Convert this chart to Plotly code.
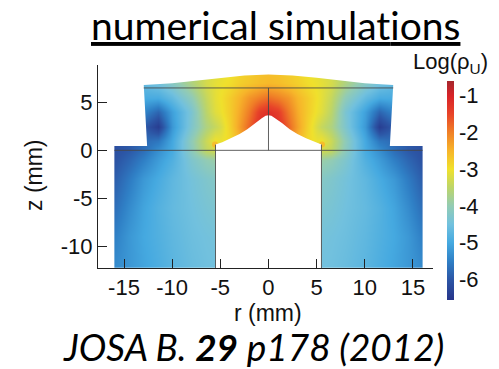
import plotly.graph_objects as go

# ---- field samples (half domain, r >= 0; field is mirror symmetric) ----
r_half = [0, 1, 2, 3, 4, 5, 5.5, 6.5, 8, 10, 11.5, 13, 14.5, 16]
z_rows = [-12.3, -9, -6, -3, -1, 0, 1, 2.5, 4, 5.5, 7, 8]
logrho_half = [
    [-4.5, -4.5, -4.5, -4.5, -4.5, -4.5, -4.5, -4.52, -4.6, -4.75, -4.9, -5.05, -5.2, -5.35],
    [-4.45, -4.45, -4.45, -4.45, -4.45, -4.45, -4.45, -4.48, -4.55, -4.7, -4.85, -5.0, -5.2, -5.5],
    [-4.33, -4.33, -4.33, -4.33, -4.33, -4.33, -4.33, -4.38, -4.5, -4.65, -4.82, -5.05, -5.35, -5.7],
    [-4.2, -4.2, -4.2, -4.2, -4.2, -4.2, -4.2, -4.28, -4.45, -4.7, -4.95, -5.2, -5.55, -5.9],
    [-3.9, -3.9, -3.9, -3.9, -3.9, -3.9, -3.9, -4.0, -4.3, -4.85, -5.15, -5.5, -5.8, -6.05],
    [-3.3, -3.3, -3.3, -3.3, -3.3, -3.3, -3.3, -3.45, -4.1, -4.95, -5.3, -5.7, -5.95, -6.1],
    [-1.2, -1.5, -2.0, -2.5, -2.9, -3.05, -3.0, -3.35, -4.05, -5.0, -5.6, -5.75, -5.95, -6.1],
    [-0.9, -1.2, -1.75, -2.3, -2.8, -3.25, -3.4, -3.65, -4.3, -5.2, -6.4, -5.9, -5.9, -5.9],
    [-1.2, -1.4, -1.95, -2.4, -2.75, -3.05, -3.15, -3.5, -4.35, -5.1, -5.8, -5.4, -5.4, -5.4],
    [-1.85, -2.0, -2.2, -2.5, -2.75, -3.0, -3.1, -3.4, -4.05, -4.65, -4.95, -4.95, -5.0, -5.0],
    [-2.55, -2.6, -2.7, -2.8, -2.95, -3.05, -3.1, -3.25, -3.65, -4.15, -4.45, -4.65, -4.7, -4.8],
    [-2.6, -2.65, -2.75, -2.85, -3.0, -3.1, -3.15, -3.3, -3.7, -4.2, -4.5, -4.7, -4.75, -4.8],
]

# ---- geometry of the simulated domain (mm) ----
outer_r = [-18, -18, -16, -16, -12.6, -12.95, -10, -7.4, -5, -2.5, 0, 2.5, 5, 7.4, 10, 12.95, 12.6, 16, 16, 18, 18]
outer_z = [9.5, -13, -13, 0.45, 0.45, 6.8, 7.0, 7.3, 7.55, 7.8, 7.9, 7.8, 7.55, 7.3, 7.0, 6.8, 0.45, 0.45, -13, -13, 9.5]
cusp_r = [-5.5, -5.5, -4.8, -3.9, -3.0, -2.2, -1.4, -0.7, -0.3, 0, 0.3, 0.7, 1.4, 2.2, 3.0, 3.9, 4.8, 5.5, 5.5]
cusp_z = [-13, 0.6, 0.85, 1.25, 1.7, 2.2, 2.85, 3.35, 3.6, 3.65, 3.6, 3.35, 2.85, 2.2, 1.7, 1.25, 0.85, 0.6, -13]
corner_r = [-5.55, 5.55]
corner_z = [0.6, 0.6]
corner_val = [-2.6, -2.6]

x_ticks = [-15, -10, -5, 0, 5, 10, 15]
y_ticks = [-10, -5, 0, 5]
cb_ticks = [-6, -5, -4, -3, -2, -1]

colorscale = [
    [0.000, "#27358a"], [0.092, "#2c55a5"], [0.176, "#2f7fc5"], [0.261, "#45a9e0"],
    [0.345, "#72c1de"], [0.429, "#93ccb4"], [0.513, "#bcd56a"], [0.597, "#f0e12c"],
    [0.681, "#f7b52a"], [0.765, "#f08027"], [0.849, "#e84429"], [0.933, "#d82328"],
    [1.000, "#a5282d"],
]

r_full = [-v for v in reversed(r_half[1:])] + r_half
logrho_full = [list(reversed(row[1:])) + row for row in logrho_half]

fig = go.Figure()
fig.add_trace(go.Heatmap(x=r_full, y=z_rows, z=logrho_full, zsmooth="best",
                         coloraxis="coloraxis", hoverinfo="skip"))
fig.add_trace(go.Scatter(x=corner_r, y=corner_z, mode="markers",
                         marker=dict(size=6, color=corner_val, coloraxis="coloraxis", line_width=0),
                         showlegend=False, hoverinfo="skip"))
for rr, zz in [(outer_r, outer_z), (cusp_r, cusp_z)]:
    fig.add_trace(go.Scatter(x=rr, y=zz, fill="toself", fillcolor="white", mode="lines",
                             line=dict(width=0, color="white"), showlegend=False, hoverinfo="skip"))

line_style = dict(color="rgba(70,70,70,0.85)", width=1)
segments = [
    ([-16, 16], [0, 0]),
    ([0, 0], [0, 6.5]),
    ([-12.95, 12.95], [6.5, 6.5]),
    ([-5.5, -5.5], [-12.5, 0.6]),
    ([5.5, 5.5], [-12.5, 0.6]),
]
for sx, sy in segments:
    fig.add_trace(go.Scatter(x=sx, y=sy, mode="lines", line=line_style, showlegend=False, hoverinfo="skip"))

sans = "Liberation Sans, Arial, Helvetica, sans-serif"
tick_font = dict(family=sans, size=22, color="#111")
label_font = dict(family=sans, size=23, color="#111")
title_font = dict(family="Lato, Carlito, sans-serif", size=39, color="black")
cite_font = dict(family="Lato, Carlito, sans-serif", size=37, color="black")
L, R, T, B = 98, 66, 65, 101
W, H = 499, 369
pw, ph = W - L - R, H - T - B

def px(x):
    return (x - L) / pw

def py(y):
    return (H - B - y) / ph

def note(text, x, y, font, **kw):
    return dict(text=text, x=px(x), y=py(y), xref="paper", yref="paper", showarrow=False,
                xanchor="center", yanchor="middle", font=font, **kw)

fig.update_layout(
    width=W, height=H, margin=dict(l=L, r=R, t=T, b=B),
    paper_bgcolor="white", plot_bgcolor="white", showlegend=False,
    xaxis=dict(range=[-17.7, 17.08], tickvals=x_ticks, ticktext=[str(v) for v in x_ticks],
               showline=True, linecolor="#222", linewidth=1, ticks="inside", ticklen=9,
               tickcolor="#222", showgrid=False, zeroline=False, tickfont=tick_font),
    yaxis=dict(range=[-12.26, 8.89], tickvals=y_ticks, ticktext=[str(v) for v in y_ticks],
               showline=True, linecolor="#222", linewidth=1, ticks="inside", ticklen=9,
               tickcolor="#222", showgrid=False, zeroline=False, tickfont=tick_font),
    coloraxis=dict(
        colorscale=colorscale, cmin=-6.55, cmax=-0.6,
        colorbar=dict(thickness=7, len=219, lenmode="pixels", x=px(446.7), xanchor="left",
                      xpad=0, y=py(80.7), yanchor="top", ypad=0, outlinewidth=0,
                      tickvals=cb_ticks, ticktext=[str(v) for v in cb_ticks], ticks="",
                      tickfont=tick_font),
    ),
    annotations=[
        note("<u>numerical simulat\u200cions</u>", 275, 25, title_font),
        note("<i>JOSA B. <b>29</b> p178 (2012)</i>", 253, 346.5, cite_font),
        note("r (mm)", 268, 312.5, label_font),
        note("z (mm)", 34, 175, label_font, textangle=-90),
        note("Log(ρ<sub>U</sub>)", 450, 63, tick_font),
    ],
)

fig.write_html("out.html")
